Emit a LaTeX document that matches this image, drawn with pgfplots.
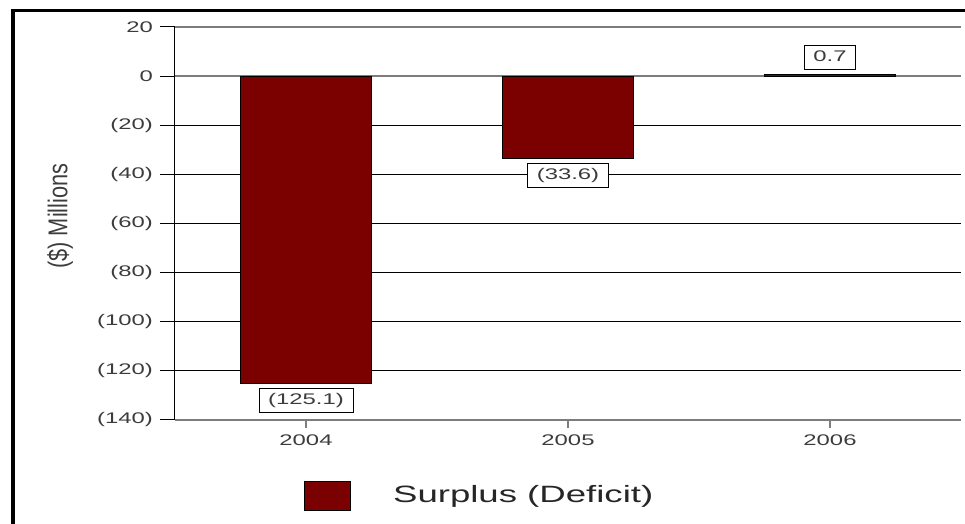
\documentclass[border=0pt]{standalone}
\usepackage{fontspec}
\setmainfont{Liberation Sans}
\newfontfamily\widefont{Liberation Sans}[FakeStretch=1.55]
\newfontfamily\narrowfont{Liberation Sans}[FakeStretch=0.8]
\usepackage{pgfplots}
\pgfplotsset{compat=1.18}
\definecolor{barred}{RGB}{123,0,0}
\definecolor{txt}{RGB}{60,60,60}
\definecolor{lightrule}{RGB}{125,125,125}

\begin{document}
\begin{tikzpicture}
\useasboundingbox (0,0) rectangle (482.5pt,262pt);
\clip (0,0) rectangle (482.5pt,262pt);
\begin{axis}[
  at={(87.5pt,52pt)}, anchor=south west,
  scale only axis, width=393pt, height=196.5pt,
  xmin=-0.5, xmax=2.5, ymin=-140, ymax=20,
  ybar, bar width=0.5, bar shift=0pt,
  axis x line*=bottom, axis y line*=left,
  x axis line style={lightrule, line width=0.5pt, -},
  y axis line style={black, line width=0.5pt, -},
  tick align=outside,
  major tick length=7.5pt,
  xtick=\empty,
  extra x ticks={0,1,2}, extra x tick labels={2004,2005,2006},
  extra x tick style={major tick length=4pt,
    tick style={lightrule, line width=0.6pt}},
  xticklabel style={font=\widefont\fontsize{7.7}{8}\selectfont, text=txt},
  ytick={-120,-100,-80,-60,-40,-20},
  yticklabels={(120),(100),(80),(60),(40),(20)},
  extra y ticks={-140,0,20},
  extra y tick labels={(140),0,20},
  extra y tick style={major grid style={lightrule, line width=0.75pt},
    major tick style={lightrule, line width=0.75pt}},
  yticklabel style={font=\widefont\fontsize{7.7}{8}\selectfont, text=txt},
  y tick style={black, line width=0.5pt},
  ymajorgrids, major grid style={black, line width=0.5pt},
  ylabel={(\$) Millions},
  ylabel style={font=\narrowfont\fontsize{13.6}{14}\selectfont, text=txt,
    at={(axis description cs:-0.1463,0.519)}, anchor=center},
  nodes near coords,
  point meta=explicit symbolic,
  every node near coord/.append style={font=\widefont\fontsize{7.7}{8}\selectfont,
    text=txt, draw=black, line width=0.4pt, fill=white,
    inner xsep=4.6pt, inner ysep=2.4pt, text height=5.6pt, text depth=1.6pt,
    outer sep=2.6pt},
  legend style={at={(axis description cs:0.164,-0.193)}, anchor=west,
    draw=none, fill=none, inner sep=0pt,
    nodes={inner sep=0pt, font=\widefont\fontsize{11.8}{13}\selectfont, text=black!85}},
  legend image code/.code={
    \draw[fill=barred, draw=black, line width=0.4pt] (0pt,-7.25pt) rectangle (23pt,7.25pt);
    \path (44pt,0pt);
  },
]
% deficits, labelled beneath the bar
\addplot[fill=barred, draw=black, line width=0.4pt,
  every node near coord/.append style={anchor=north}]
  coordinates {(0,-125.1) [(125.1)] (1,-33.6) [(33.6)]};
% surplus, labelled above the bar
\addplot[fill=barred, draw=black, line width=0.4pt,
  every node near coord/.append style={anchor=south}]
  coordinates {(2,0.7) [0.7]};
\legend{Surplus (Deficit)}
\end{axis}
% frame
\draw[black, line width=1.75pt] (5.5pt,256.75pt) -- (482.5pt,256.75pt);
\draw[black, line width=2pt] (6.5pt,0pt) -- (6.5pt,257.6pt);
\end{tikzpicture}
\end{document}
